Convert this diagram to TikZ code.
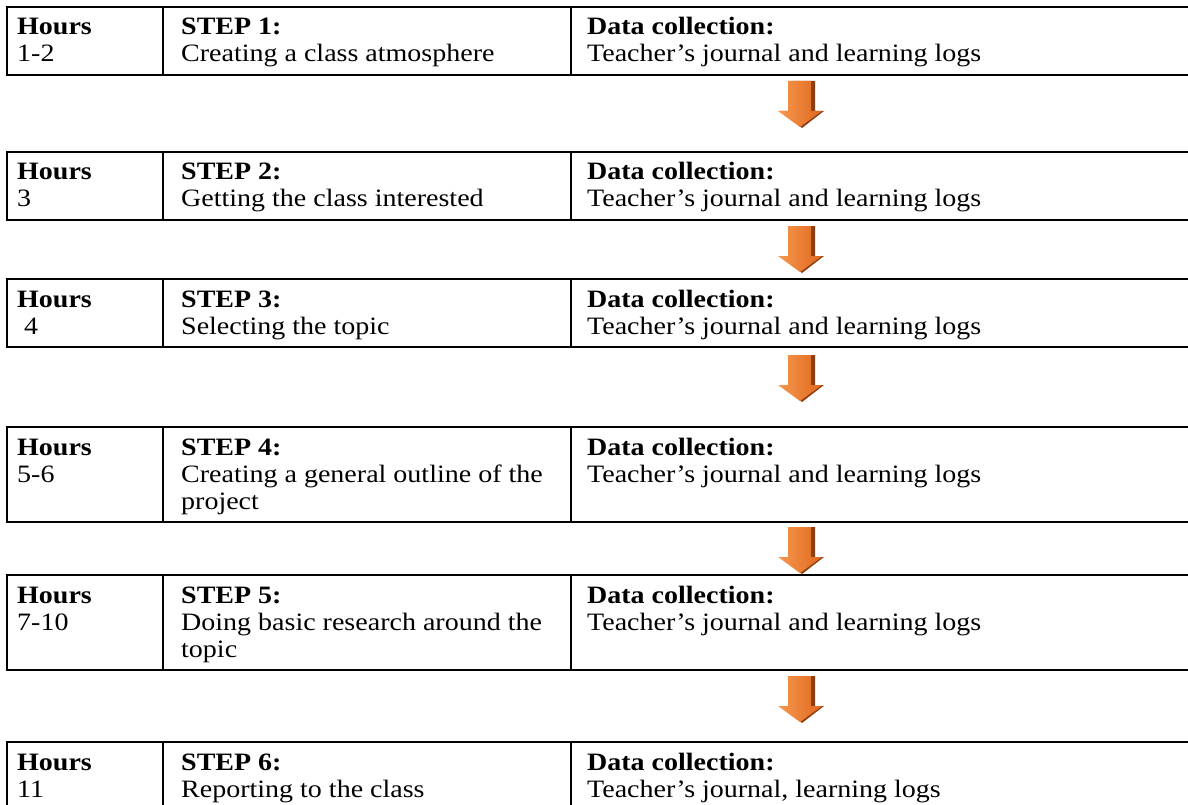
\documentclass[tikz,border=0pt]{standalone}
\usepackage{fontspec}
\setmainfont{Liberation Serif}[FakeStretch=1.12]
\definecolor{arrlight}{RGB}{247,152,78}
\definecolor{arrdark}{RGB}{222,104,30}
\definecolor{arrshadow}{RGB}{140,62,18}

\begin{document}
\begin{tikzpicture}[x=1pt, y=-1pt,
  rule/.style={line width=2pt},
  cell/.style={anchor=base west, inner sep=0pt, font=\fontsize{25}{27}\selectfont},
  headcell/.style={cell, font=\fontsize{25}{27}\selectfont\bfseries}]
  \useasboundingbox (0,0) rectangle (1188,805);
  \clip (0,0) rectangle (1188,805);
  % table rows: index / top / bottom / hours / step / text line 1 / line 2 / data
  \foreach \i/\t/\b/\hrs/\stp/\la/\lb/\dat in {
      1/7/75/{1-2}/{STEP 1:}/{Creating a class atmosphere}/{}/{Teacher’s journal and learning logs},
      2/152/220/{3}/{STEP 2:}/{Getting the class interested}/{}/{Teacher’s journal and learning logs},
      3/279/347/{\hspace{7pt}4}/{STEP 3:}/{Selecting the topic}/{}/{Teacher’s journal and learning logs},
      4/427/522/{5-6}/{STEP 4:}/{Creating a general outline of the}/{project}/{Teacher’s journal and learning logs},
      5/575/670/{7-10}/{STEP 5:}/{Doing basic research around the}/{topic}/{Teacher’s journal and learning logs},
      6/742/840/{11}/{STEP 6:}/{Reporting to the class}/{}/{Teacher’s journal, learning logs}} {
    \draw[rule] (1200,\t) -- (7,\t) -- (7,\b) -- (1200,\b);
    \draw[rule] (163,\t) -- (163,\b) (571,\t) -- (571,\b);
    \node[headcell] (hrs\i) at (17,\t+28) {Hours};
    \node[cell] (hval\i) at (17,\t+55) {\hrs};
    \node[headcell] (step\i) at (181,\t+28) {\stp};
    \node[cell] (sname\i) at (181,\t+55) {\la};
    \node[cell] (sname\i b) at (181,\t+82) {\lb};
    \node[headcell] (data\i) at (587,\t+28) {Data collection:};
    \node[cell] (dval\i) at (587,\t+55) {\dat};
  }
  % orange arrows between the steps
  \foreach \n/\y in {1/81, 2/226, 3/355, 4/527, 5/676} {
    \coordinate (arr\n) at (800,\y);
    \fill[arrshadow] (791,\y) -- (815,\y) -- (815,\y+30) -- (824,\y+30)
      -- (802,\y+47) -- (780,\y+30) -- (791,\y+30) -- cycle;
    \shade[left color=arrlight, right color=arrdark] (788,\y) -- (811,\y)
      -- (811,\y+30) -- (822,\y+30) -- (800,\y+46) -- (778,\y+30)
      -- (788,\y+30) -- cycle;
  }
\end{tikzpicture}
\end{document}
